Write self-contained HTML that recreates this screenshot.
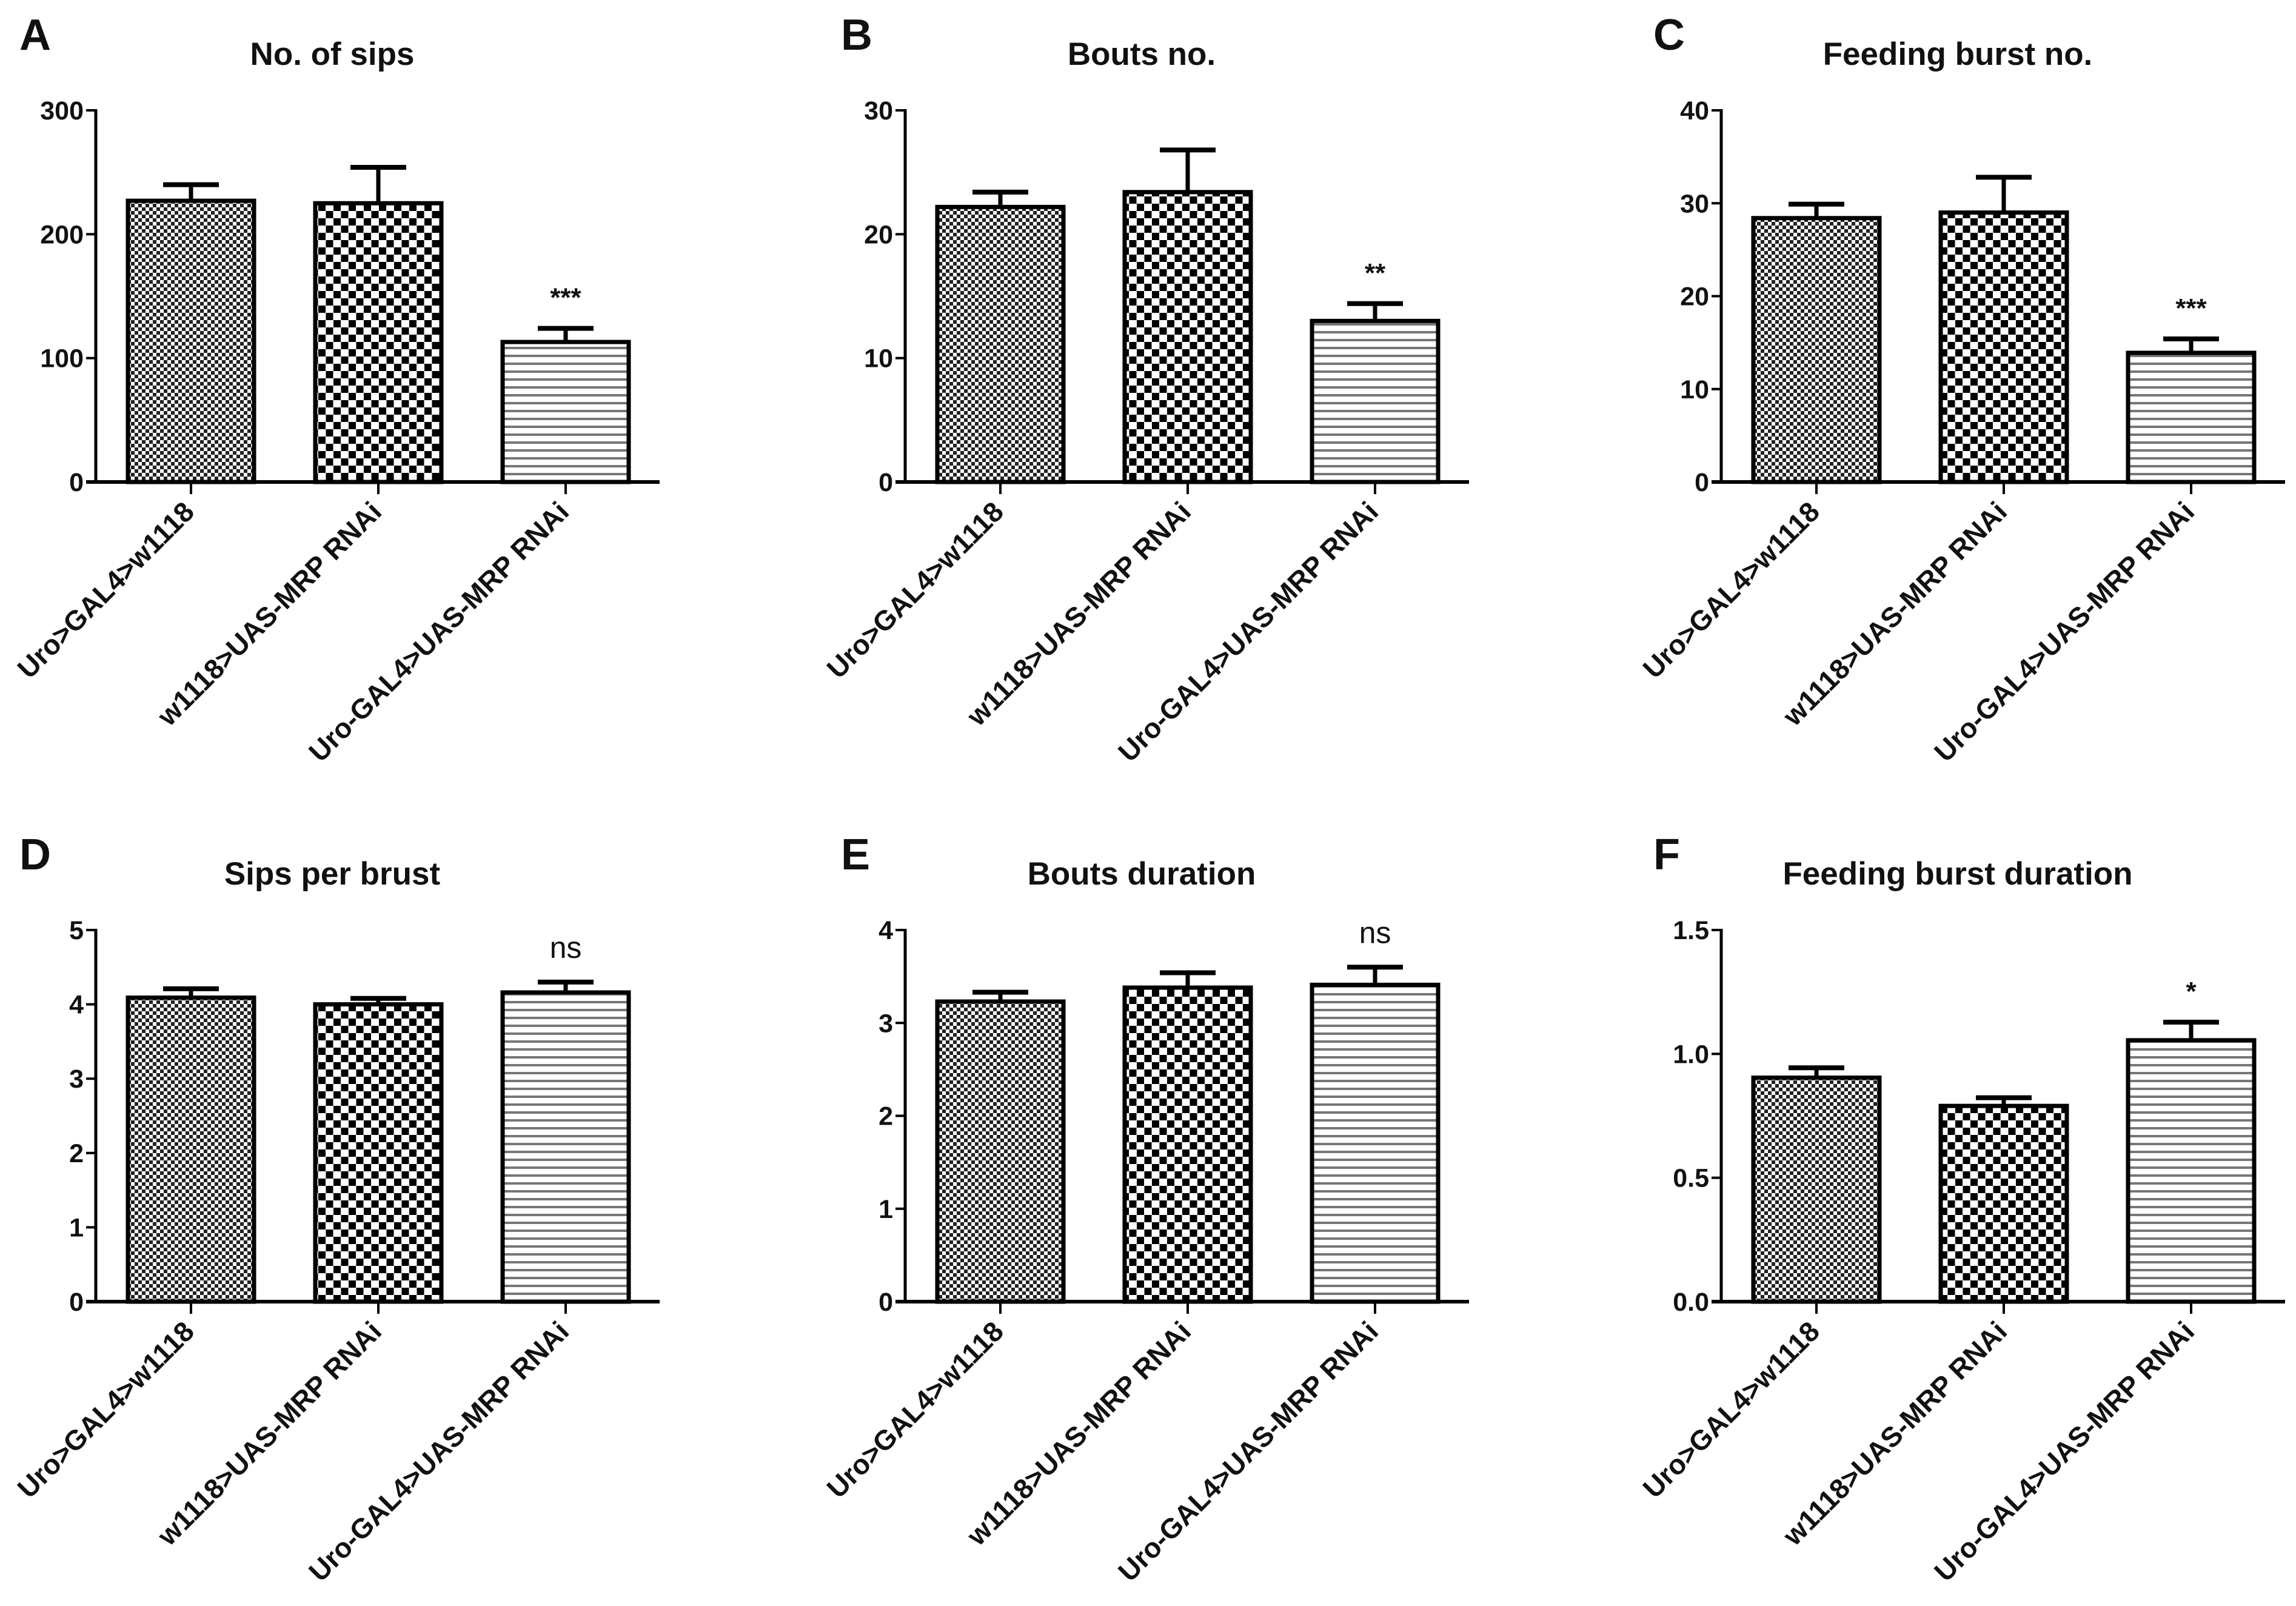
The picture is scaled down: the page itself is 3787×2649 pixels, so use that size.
<!DOCTYPE html>
<html><head><meta charset="utf-8"><style>
html,body{margin:0;padding:0;background:#fff;}
svg{display:block;}
text{font-family:"Liberation Sans",Arial,sans-serif;font-weight:bold;fill:#111;}
</style></head><body>
<svg id="fig" width="3787" height="2649" viewBox="0 0 3787 2649" xmlns="http://www.w3.org/2000/svg">
<defs>
<pattern id="pFine" patternUnits="userSpaceOnUse" width="12" height="12">
<rect width="12" height="12" fill="#fff"/><rect width="6" height="6" fill="#222"/><rect x="6" y="6" width="6" height="6" fill="#222"/>
</pattern>
<pattern id="pCoarse" patternUnits="userSpaceOnUse" width="25" height="24">
<rect width="25" height="24" fill="#fff"/><rect width="12" height="12" fill="#000"/><rect x="12.5" y="12" width="12" height="12" fill="#000"/>
</pattern>
<pattern id="pStripe" patternUnits="userSpaceOnUse" width="20" height="13">
<rect width="20" height="13" fill="#fff"/><rect y="0" width="20" height="4" fill="#777"/>
</pattern>
</defs>
</svg>
<script>
const categories = ["Uro>GAL4>w1118", "w1118>UAS-MRP RNAi", "Uro-GAL4>UAS-MRP RNAi"];
const panelLetters = ["A","B","C","D","E","F"];
const panelTitles = ["No. of sips","Bouts no.","Feeding burst no.","Sips per brust","Bouts duration","Feeding burst duration"];
const yMax = [300, 30, 40, 5, 4, 1.5];
const yTickLabels = [
  ["0","100","200","300"],
  ["0","10","20","30"],
  ["0","10","20","30","40"],
  ["0","1","2","3","4","5"],
  ["0","1","2","3","4"],
  ["0.0","0.5","1.0","1.5"]
];
const meanA = [227, 225, 113];
const errA = [240, 254, 124];
const meanB = [22.2, 23.4, 13.0];
const errB = [23.4, 26.8, 14.4];
const meanC = [28.4, 29.0, 13.9];
const errC = [29.9, 32.8, 15.4];
const meanD = [4.09, 4.0, 4.16];
const errD = [4.21, 4.08, 4.3];
const meanE = [3.23, 3.38, 3.41];
const errE = [3.33, 3.54, 3.6];
const meanF = [0.904, 0.79, 1.055];
const errF = [0.944, 0.823, 1.128];
const signif = ["***", "**", "***", "ns", "ns", "*"];
const means = [meanA, meanB, meanC, meanD, meanE, meanF];
const errs = [errA, errB, errC, errD, errE, errF];

const NS = "http://www.w3.org/2000/svg";
const svg = document.getElementById('fig');
const fills = ["url(#pFine)", "url(#pCoarse)", "url(#pStripe)"];
const axX = [158, 1493, 2839];
const letterX = [32, 1387, 2727];
function mk(tag, attrs, parent) {
  const e = document.createElementNS(NS, tag);
  for (const k in attrs) e.setAttribute(k, attrs[k]);
  parent.appendChild(e);
  return e;
}
for (let p = 0; p < 6; p++) {
  const col = p % 3, row = Math.floor(p / 3);
  const ox = axX[col], dy = row * 1352;
  const y0 = 795 + dy, yTop = 182 + dy;
  const ys = v => y0 - (v / yMax[p]) * (y0 - yTop);
  const bx = i => ox + 53 + i * 309;
  const g = mk('g', {}, svg);
  
  
  const L = mk('text', {x: letterX[col], y: 82 + dy, 'font-size': 72}, g);
  L.textContent = panelLetters[p];
  
  
  const T = mk('text', {x: ox + 390, y: 107 + dy, 'font-size': 53, 'text-anchor': 'middle'}, g);
  T.textContent = panelTitles[p];
  
  
  for (let i = 0; i < 3; i++) {
    const m = means[p][i], e = errs[p][i];
    const x = bx(i), w = 208, cx = x + w / 2;
    const eb = mk('g', {}, g);
    
    
    mk('line', {x1: cx, x2: cx, y1: ys(m), y2: ys(e), stroke: '#000', 'stroke-width': 7}, eb);
    mk('line', {x1: cx - 46, x2: cx + 46, y1: ys(e), y2: ys(e), stroke: '#000', 'stroke-width': 8}, eb);
    const r = mk('rect', {x: x, y: ys(m), width: w, height: y0 - ys(m), fill: fills[i], stroke: '#000', 'stroke-width': 7}, g);
    
    
    mk('line', {x1: cx, x2: cx, y1: y0, y2: y0 + 20, stroke: '#000', 'stroke-width': 4}, g);
    const lab = mk('text', {x: cx + 8, y: y0 + 52, 'font-size': 46, 'text-anchor': 'end', transform: 'rotate(-45 ' + (cx + 8) + ' ' + (y0 + 52) + ')'}, g);
    lab.textContent = categories[i];
    
    
    if (i === 2) {
      const isNs = signif[p] === 'ns';
      const s = mk('text', {x: cx, y: ys(e) - (isNs ? 40 : 36), 'font-size': isNs ? 50 : 44, 'text-anchor': 'middle', style: isNs ? 'font-weight:normal' : 'font-weight:bold'}, g);
      s.textContent = signif[p];
      
      
    }
  }
  const ya = mk('line', {x1: ox, x2: ox, y1: yTop - 2, y2: y0 + 2, stroke: '#000', 'stroke-width': 5}, g);
  
  
  const xa = mk('line', {x1: ox - 16, x2: ox + 930, y1: y0, y2: y0, stroke: '#000', 'stroke-width': 6}, g);
  
  
  const n = yTickLabels[p].length;
  for (let k = 0; k < n; k++) {
    const v = yMax[p] * k / (n - 1);
    const ty = ys(v);
    mk('line', {x1: ox - 16, x2: ox, y1: ty, y2: ty, stroke: '#000', 'stroke-width': 4}, g);
    const tl = mk('text', {x: ox - 20, y: ty + 15, 'font-size': 43, 'text-anchor': 'end'}, g);
    tl.textContent = yTickLabels[p][k];
    
    
  }
}
</script>
</body></html>
